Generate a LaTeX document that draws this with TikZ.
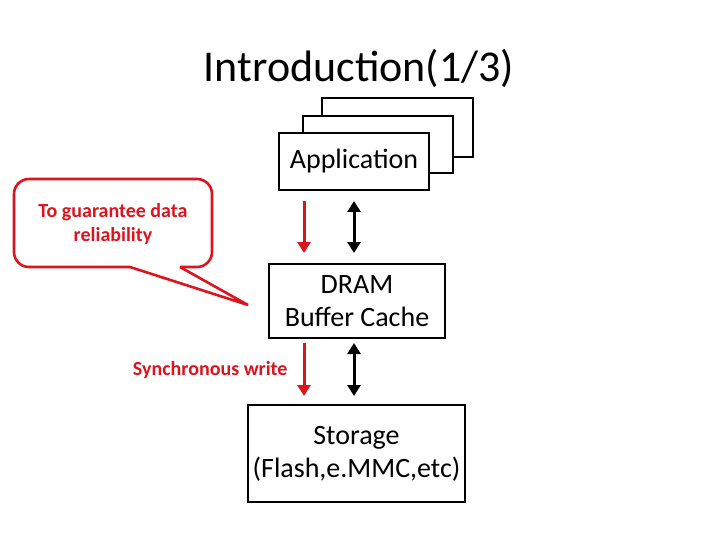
\documentclass[tikz,border=0pt]{standalone}
\usepackage{fontspec}
\setmainfont{Carlito}
\usetikzlibrary{arrows.meta}
\definecolor{callred}{RGB}{220,20,30}
\tikzset{
  box/.style={draw, line width=2.6pt, fill=white, inner sep=0pt, align=center, font=\fontsize{28}{33}\selectfont},
  redarr/.style={draw=callred, line width=3pt, -{Triangle[width=13pt,length=11pt]}},
  twoarr/.style={draw, line width=3pt, {Triangle[width=13pt,length=11pt]}-{Triangle[width=13pt,length=11pt]}},
  note/.style={text=callred, font=\bfseries\fontsize{20}{24}\selectfont, align=center}
}
\begin{document}
\begin{tikzpicture}[x=1pt,y=-1pt]
  \useasboundingbox (0,0) rectangle (720,540);
  % title
  \node (title) at (359,68) {\fontsize{44}{50}\selectfont Introduction(1/3)};
  % application stack
  \draw[line width=2.6pt, fill=white] (322,98) rectangle (473,157);
  \draw[line width=2.6pt, fill=white] (303,116) rectangle (453,173);
  \node[box, minimum width=150pt, minimum height=57pt] (app) at (354,161.5) {Application};
  % buffer cache and storage
  \node[box, minimum width=176pt, minimum height=74pt] (dram) at (357,301) {DRAM\\Buffer Cache};
  \node[box, minimum width=217pt, minimum height=97pt] (stor) at (356.5,453.5) {Storage\\(Flash,e.MMC,etc)};
  % arrows
  \coordinate (r1a) at (304,201); \coordinate (r1b) at (304,253);
  \coordinate (b1a) at (354,201); \coordinate (b1b) at (354,253);
  \coordinate (r2a) at (304,343); \coordinate (r2b) at (304,396);
  \coordinate (b2a) at (354,343); \coordinate (b2b) at (354,396);
  \draw[redarr] (r1a) -- (r1b);
  \draw[twoarr] (b1a) -- (b1b);
  \draw[redarr] (r2a) -- (r2b);
  \draw[twoarr] (b2a) -- (b2b);
  % callout
  \draw[callred, line width=2.6pt, fill=white, rounded corners=15pt]
    (130,267) -- (14,267) -- (14,179) -- (212,179) -- (212,267) -- (180,267);
  \draw[callred, line width=2.6pt, line join=miter] (130,267) -- (248,305) -- (180,267);
  \node[note] (why) at (113,224) {To guarantee data\\reliability};
  \node[note, anchor=east] (sync) at (291,370) {Synchronous write};
\end{tikzpicture}
\end{document}
